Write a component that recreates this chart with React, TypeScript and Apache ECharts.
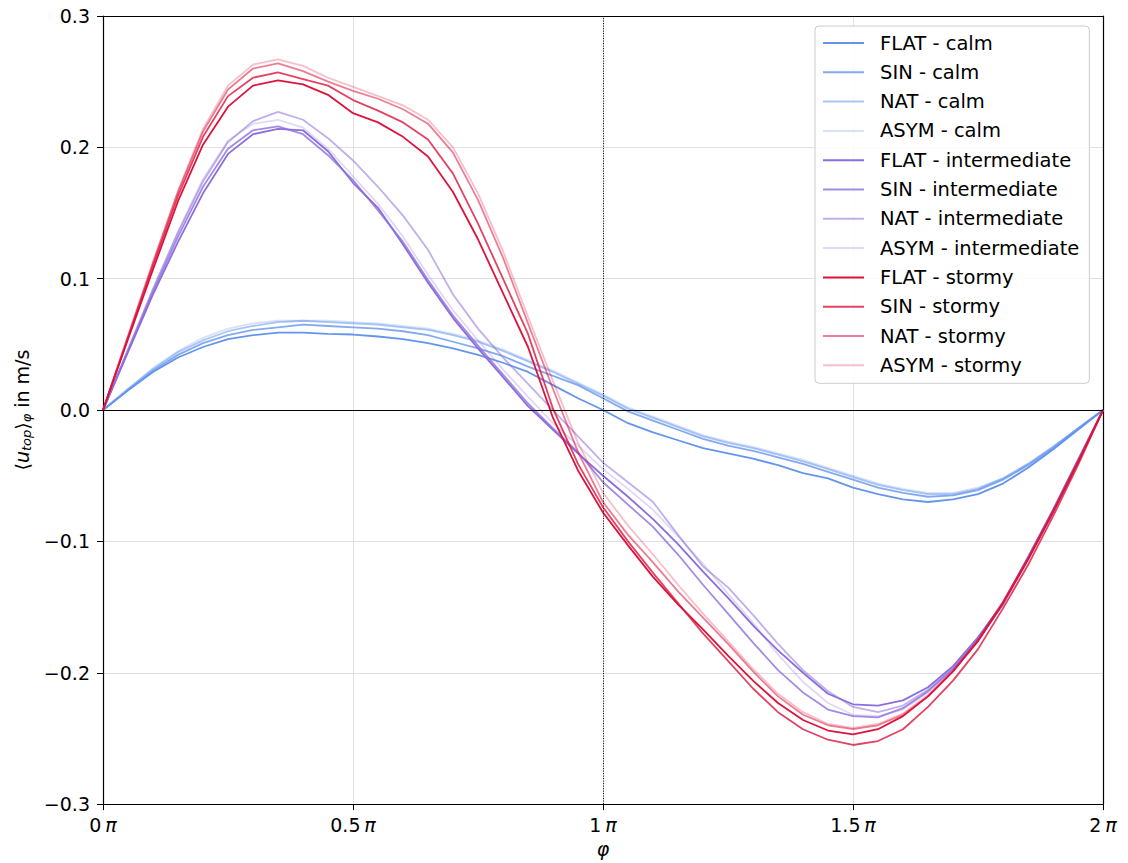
import React, { useEffect, useRef } from 'react';
import * as echarts from 'echarts';

// phase in units of pi
const phiPi = [0, 0.05, 0.1, 0.15, 0.2, 0.25, 0.3, 0.35, 0.4, 0.45, 0.5, 0.55, 0.6, 0.65, 0.7, 0.75, 0.8, 0.85, 0.9, 0.95, 1, 1.05, 1.1, 1.15, 1.2, 1.25, 1.3, 1.35, 1.4, 1.45, 1.5, 1.55, 1.6, 1.65, 1.7, 1.75, 1.8, 1.85, 1.9, 1.95, 2];

const flatCalm = [0, 0.015, 0.029, 0.040, 0.048, 0.054, 0.057, 0.059, 0.059, 0.058, 0.0575, 0.056, 0.054, 0.051, 0.047, 0.042, 0.036, 0.029, 0.019, 0.009, 0.000, -0.010, -0.017, -0.023, -0.029, -0.033, -0.037, -0.042, -0.048, -0.052, -0.059, -0.064, -0.068, -0.070, -0.068, -0.064, -0.056, -0.044, -0.030, -0.015, 0];
const sinCalm = [0, 0.015, 0.030, 0.042, 0.051, 0.057, 0.061, 0.063, 0.065, 0.064, 0.063, 0.062, 0.060, 0.057, 0.052, 0.047, 0.041, 0.033, 0.026, 0.019, 0.009, -0.001, -0.008, -0.015, -0.022, -0.027, -0.031, -0.036, -0.041, -0.047, -0.053, -0.059, -0.063, -0.066, -0.065, -0.061, -0.053, -0.042, -0.029, -0.014, 0];
const natCalm = [0, 0.016, 0.031, 0.044, 0.053, 0.060, 0.064, 0.067, 0.068, 0.067, 0.066, 0.065, 0.063, 0.061, 0.057, 0.052, 0.045, 0.037, 0.029, 0.020, 0.011, 0.001, -0.006, -0.013, -0.020, -0.025, -0.029, -0.034, -0.039, -0.045, -0.051, -0.057, -0.061, -0.064, -0.064, -0.060, -0.052, -0.041, -0.028, -0.014, 0];
const asymCalm = [0, 0.016, 0.032, 0.045, 0.055, 0.062, 0.066, 0.068, 0.068, 0.068, 0.067, 0.066, 0.064, 0.062, 0.058, 0.053, 0.046, 0.038, 0.030, 0.021, 0.012, 0.002, -0.005, -0.012, -0.019, -0.024, -0.028, -0.033, -0.038, -0.044, -0.050, -0.056, -0.060, -0.063, -0.063, -0.059, -0.052, -0.041, -0.028, -0.014, 0];

const flatInter = [0, 0.044, 0.088, 0.128, 0.165, 0.195, 0.210, 0.214, 0.213, 0.197, 0.173, 0.154, 0.126, 0.097, 0.070, 0.047, 0.025, 0.003, -0.015, -0.033, -0.050, -0.066, -0.083, -0.102, -0.123, -0.143, -0.164, -0.183, -0.200, -0.216, -0.224, -0.225, -0.221, -0.211, -0.195, -0.173, -0.147, -0.112, -0.076, -0.038, 0];
const sinInter = [0, 0.045, 0.090, 0.132, 0.170, 0.199, 0.213, 0.216, 0.210, 0.194, 0.175, 0.152, 0.128, 0.099, 0.072, 0.049, 0.027, 0.005, -0.014, -0.032, -0.055, -0.072, -0.089, -0.110, -0.133, -0.155, -0.177, -0.198, -0.215, -0.228, -0.233, -0.234, -0.227, -0.214, -0.197, -0.175, -0.148, -0.113, -0.077, -0.039, 0];
const natInter = [0, 0.046, 0.092, 0.135, 0.174, 0.204, 0.220, 0.227, 0.221, 0.207, 0.190, 0.170, 0.148, 0.122, 0.088, 0.062, 0.040, 0.020, 0.000, -0.020, -0.040, -0.055, -0.070, -0.095, -0.119, -0.135, -0.156, -0.178, -0.198, -0.214, -0.226, -0.230, -0.225, -0.213, -0.196, -0.174, -0.147, -0.112, -0.076, -0.038, 0];
const asymInter = [0, 0.046, 0.092, 0.136, 0.176, 0.205, 0.218, 0.221, 0.215, 0.199, 0.178, 0.157, 0.132, 0.103, 0.076, 0.053, 0.031, 0.010, -0.010, -0.027, -0.045, -0.060, -0.076, -0.096, -0.117, -0.140, -0.162, -0.186, -0.207, -0.223, -0.232, -0.233, -0.228, -0.215, -0.198, -0.175, -0.148, -0.113, -0.077, -0.039, 0];

const flatStorm = [0, 0.054, 0.107, 0.159, 0.202, 0.231, 0.247, 0.251, 0.248, 0.240, 0.226, 0.219, 0.208, 0.193, 0.166, 0.130, 0.089, 0.048, -0.006, -0.046, -0.078, -0.103, -0.127, -0.148, -0.167, -0.187, -0.206, -0.223, -0.236, -0.244, -0.247, -0.243, -0.233, -0.218, -0.199, -0.176, -0.147, -0.114, -0.078, -0.040, 0];
const sinStorm = [0, 0.055, 0.110, 0.163, 0.208, 0.239, 0.253, 0.257, 0.252, 0.247, 0.236, 0.228, 0.219, 0.206, 0.180, 0.142, 0.100, 0.058, 0.001, -0.041, -0.074, -0.100, -0.124, -0.147, -0.170, -0.191, -0.212, -0.230, -0.243, -0.251, -0.255, -0.252, -0.243, -0.226, -0.206, -0.182, -0.151, -0.118, -0.081, -0.042, 0];
const natStorm = [0, 0.056, 0.112, 0.166, 0.212, 0.244, 0.260, 0.264, 0.258, 0.250, 0.243, 0.237, 0.229, 0.218, 0.196, 0.160, 0.116, 0.066, 0.016, -0.032, -0.070, -0.095, -0.116, -0.138, -0.158, -0.178, -0.199, -0.218, -0.232, -0.240, -0.243, -0.240, -0.232, -0.218, -0.199, -0.175, -0.146, -0.113, -0.077, -0.039, 0];
const asymStorm = [0, 0.057, 0.113, 0.167, 0.214, 0.247, 0.263, 0.267, 0.262, 0.253, 0.246, 0.239, 0.232, 0.221, 0.200, 0.165, 0.121, 0.071, 0.022, -0.025, -0.063, -0.088, -0.110, -0.133, -0.155, -0.176, -0.197, -0.216, -0.230, -0.239, -0.242, -0.239, -0.231, -0.217, -0.198, -0.175, -0.146, -0.113, -0.077, -0.039, 0];

const seriesNames = [
  'FLAT - calm', 'SIN - calm', 'NAT - calm', 'ASYM - calm',
  'FLAT - intermediate', 'SIN - intermediate', 'NAT - intermediate', 'ASYM - intermediate',
  'FLAT - stormy', 'SIN - stormy', 'NAT - stormy', 'ASYM - stormy',
];
const seriesValues = [
  flatCalm, sinCalm, natCalm, asymCalm,
  flatInter, sinInter, natInter, asymInter,
  flatStorm, sinStorm, natStorm, asymStorm,
];
const seriesColors = [
  'rgba(100,149,237,1)', 'rgba(100,149,237,0.8)', 'rgba(100,149,237,0.55)', 'rgba(100,149,237,0.27)',
  'rgba(140,110,220,1)', 'rgba(140,110,220,0.8)', 'rgba(140,110,220,0.55)', 'rgba(140,110,220,0.27)',
  'rgba(220,20,60,1)', 'rgba(220,20,60,0.8)', 'rgba(220,20,60,0.55)', 'rgba(220,20,60,0.27)',
];

const xTicks = [0, 0.5, 1, 1.5, 2];
const xTickText = ['0', '0.5', '1', '1.5', '2'];
const yTicks = [-0.3, -0.2, -0.1, 0, 0.1, 0.2, 0.3];
const yTickText = ['−0.3', '−0.2', '−0.1', '0.0', '0.1', '0.2', '0.3'];

const FONT = 'DejaVu Sans';

export default function App() {
  const ref = useRef<HTMLDivElement>(null);
  useEffect(() => {
    const chart = echarts.init(ref.current!, null, { renderer: 'svg' });
    const lineSeries: any[] = seriesNames.map((name, i) => ({
      name,
      type: 'line',
      data: phiPi.map((x, j) => [x, seriesValues[i][j]]),
      symbol: 'none',
      showSymbol: false,
      color: seriesColors[i],
      lineStyle: { color: seriesColors[i], width: 1.8 },
      emphasis: { disabled: true },
      z: 2,
    }));
    lineSeries.push({
      name: '__ref',
      type: 'line',
      data: [],
      symbol: 'none',
      z: 3,
      markLine: {
        silent: true,
        symbol: ['none', 'none'],
        label: { show: false },
        animation: false,
        data: [
          { yAxis: 0, lineStyle: { color: '#000', width: 1, type: 'solid' } },
          { xAxis: 1, lineStyle: { color: '#000', width: 1, type: [1, 1.5] } },
        ],
      },
    });
    const xLabel = (v: number) => {
      const k = xTicks.findIndex((t) => Math.abs(t - v) < 1e-9);
      return k >= 0 ? `{n|${xTickText[k]}} {p|π}` : '';
    };
    const yLabel = (v: number) => {
      const k = yTicks.findIndex((t) => Math.abs(t - v) < 1e-9);
      return k >= 0 ? yTickText[k] : '';
    };
    chart.setOption({
      animation: false,
      backgroundColor: '#ffffff',
      textStyle: { fontFamily: FONT },
      grid: { left: 103, top: 16, right: 25, bottom: 58, containLabel: false },
      legend: {
        data: seriesNames.map((n) => ({ name: n, icon: 'rect' })),
        orient: 'vertical',
        left: 815,
        top: 26,
        padding: [7, 10, 8, 8],
        itemWidth: 41,
        itemHeight: 2,
        itemGap: 9.3,
        backgroundColor: 'rgba(255,255,255,0.85)',
        borderColor: '#cccccc',
        borderWidth: 1,
        borderRadius: 4,
        selectedMode: false,
        textStyle: { fontFamily: FONT, fontSize: 19.5, color: '#000', lineHeight: 20, padding: [0, 0, 0, 11] },
      },
      xAxis: [
        {
          type: 'value',
          min: 0,
          max: 2,
          interval: 0.5,
          position: 'bottom',
          name: 'φ',
          nameLocation: 'middle',
          nameGap: 34,
          nameTextStyle: { fontFamily: FONT, fontSize: 19, fontStyle: 'italic', color: '#000' },
          axisLine: { show: true, onZero: false, lineStyle: { color: '#000', width: 1.2 } },
          axisTick: { show: true, length: 6, lineStyle: { color: '#000', width: 1 } },
          axisLabel: {
            margin: 11,
            formatter: xLabel,
            rich: {
              n: { fontFamily: FONT, fontSize: 19, color: '#000' },
              p: { fontFamily: FONT, fontSize: 19, fontStyle: 'italic', color: '#000' },
            },
          },
          splitLine: { show: true, lineStyle: { color: '#e0e0e0', width: 1 } },
        },
        {
          type: 'value',
          min: 0,
          max: 2,
          interval: 0.5,
          position: 'top',
          axisLine: { show: true, onZero: false, lineStyle: { color: '#000', width: 1.2 } },
          axisTick: { show: false },
          axisLabel: { show: false },
          splitLine: { show: false },
        },
      ],
      yAxis: [
        {
          type: 'value',
          min: -0.3,
          max: 0.3,
          interval: 0.1,
          position: 'left',
          name: '{t|⟨}{i|u}{s|top}{t|⟩}{s|φ}{t| in m/s}',
          nameLocation: 'middle',
          nameRotate: 90,
          nameGap: 70,
          nameTextStyle: {
            fontFamily: FONT,
            fontSize: 19,
            color: '#000',
            rich: {
              t: { fontFamily: FONT, fontSize: 19, color: '#000' },
              i: { fontFamily: FONT, fontSize: 19, fontStyle: 'italic', color: '#000' },
              s: { fontFamily: FONT, fontSize: 13, fontStyle: 'italic', color: '#000', padding: [9, 0, 0, 0] },
            },
          },
          axisLine: { show: true, onZero: false, lineStyle: { color: '#000', width: 1.2 } },
          axisTick: { show: true, length: 6, lineStyle: { color: '#000', width: 1 } },
          axisLabel: { margin: 13, formatter: yLabel, fontFamily: FONT, fontSize: 19, color: '#000' },
          splitLine: { show: true, lineStyle: { color: '#e0e0e0', width: 1 } },
        },
        {
          type: 'value',
          min: -0.3,
          max: 0.3,
          interval: 0.1,
          position: 'right',
          axisLine: { show: true, onZero: false, lineStyle: { color: '#000', width: 1.2 } },
          axisTick: { show: false },
          axisLabel: { show: false },
          splitLine: { show: false },
        },
      ],
      series: lineSeries,
    });
    return () => chart.dispose();
  }, []);
  return (
    <div
      ref={ref}
      style={{ position: 'absolute', left: 0, top: 0, width: 1128, height: 863, background: '#fff' }}
    />
  );
}
